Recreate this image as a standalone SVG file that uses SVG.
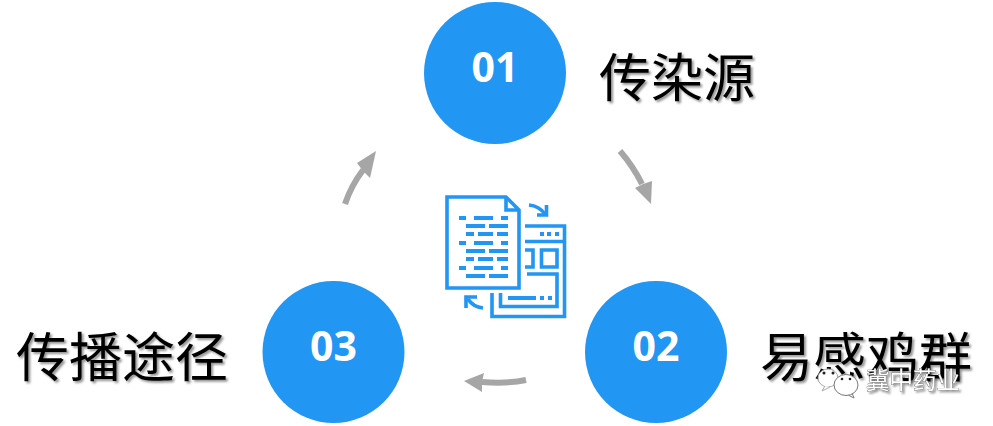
<svg xmlns="http://www.w3.org/2000/svg" width="993" height="426" viewBox="0 0 993 426">
  <style>
    .disc { fill: #2196f3; }
    .num { font-family: "Open Sans", "Noto Sans", sans-serif; font-weight: 700; font-size: 41px; fill: #fff; text-anchor: middle; }
    .label { font-family: "Noto Sans CJK SC", sans-serif; font-size: 53px; fill: #000; filter: url(#soft); }
    .flow { fill: none; stroke: #a6a6a6; stroke-width: 6; }
    .head { fill: #a6a6a6; }
    .ico { fill: none; stroke: #2196f3; stroke-width: 3.6; }
    .dash { fill: #2196f3; }
    .bubble { fill: #fff; stroke: #777; stroke-width: 1; }
    .eye { fill: #222; }
    .mark { font-family: "Noto Sans CJK SC", sans-serif; font-size: 23.5px; fill: #fff; stroke: #555; stroke-width: 0.7; paint-order: stroke; filter: url(#soft); }
  </style>
  <defs>
    <filter id="soft" x="-10%" y="-10%" width="120%" height="130%">
      <feDropShadow dx="2" dy="2" stdDeviation="1.3" flood-color="#000" flood-opacity="0.42"/>
    </filter>
  </defs>
  <rect width="993" height="426" fill="#fff"/>

  <g id="connectors">
    <path class="flow" d="M345 204 Q351 186 363 170"/>
    <path class="head" d="M376 151 L370 178 L363 171 L357 163 Z"/>
    <path class="flow" d="M620 151 Q633 166 642 184"/>
    <path class="head" d="M651 204 L635 188 L643 184 L652 181 Z"/>
    <path class="flow" d="M526 380 Q507 384 482 382"/>
    <path class="head" d="M464 381 L484 373 L482 382 L482 392 Z"/>
  </g>

  <g id="node-01">
    <circle class="disc" cx="495" cy="73" r="71"/>
    <text class="num" x="495" y="82">01</text>
    <text class="label" x="599" y="97" style="font-size:52px">传染源</text>
  </g>
  <g id="node-02">
    <circle class="disc" cx="656" cy="352" r="71"/>
    <text class="num" x="656" y="361">02</text>
    <text class="label" x="760" y="377">易感鸡群</text>
  </g>
  <g id="node-03">
    <circle class="disc" cx="333.500" cy="352" r="71"/>
    <text class="num" x="333.500" y="361">03</text>
    <text class="label" x="16" y="377">传播途径</text>
  </g>

  <g id="center-icon">
    <path class="ico" d="M447 197 H506 L519 210 V288 H447 Z"/>
    <path class="ico" d="M506 197 V210 H519"/>
    <g class="dash">
      <rect x="459" y="216" width="7" height="4"/><rect x="474" y="216" width="19" height="4"/><rect x="501" y="216" width="7" height="4"/>
      <rect x="466" y="224" width="19" height="4"/><rect x="489" y="224" width="19" height="4"/>
      <rect x="466" y="232" width="8" height="4"/><rect x="478" y="232" width="15" height="4"/><rect x="497" y="232" width="11" height="4"/>
      <rect x="459" y="241" width="7" height="4"/><rect x="474" y="241" width="19" height="4"/><rect x="501" y="241" width="7" height="4"/>
      <rect x="466" y="249" width="19" height="4"/><rect x="489" y="249" width="19" height="4"/>
      <rect x="466" y="257" width="8" height="4"/><rect x="478" y="257" width="15" height="4"/><rect x="497" y="257" width="11" height="4"/>
      <rect x="459" y="266" width="7" height="4"/><rect x="474" y="266" width="19" height="4"/><rect x="501" y="266" width="7" height="4"/>
      <rect x="466" y="274" width="19" height="4"/><rect x="489" y="274" width="19" height="4"/>
      <rect x="540" y="232" width="4" height="4"/><rect x="547" y="232" width="4" height="4"/><rect x="555" y="232" width="4" height="4"/>
      <rect x="508" y="296" width="28" height="4"/><rect x="540" y="296" width="4" height="4"/><rect x="548" y="296" width="4" height="4"/>
    </g>
    <path class="ico" d="M525 226 H564.500 V316.500 H492 V293"/>
    <path class="ico" d="M525 241.500 H564.500"/>
    <path class="ico" d="M525 250 H533 V267 H525"/>
    <path class="ico" d="M541.500 250 H557 V267 H541.500 Z"/>
    <path class="ico" d="M527 274 H557 V306.500 H500.500 V293"/>
    <path class="ico" d="M529 205 Q539 206 545 214"/>
    <path class="ico" d="M537 215 H546.500 V205"/>
    <path class="ico" d="M483 308 Q473 307 468 299"/>
    <path class="ico" d="M477 297 H466 V308"/>
  </g>

  <g id="watermark">
    <ellipse class="bubble" cx="828" cy="378" rx="10" ry="9" style="stroke:#aaa"/>
    <path class="bubble" d="M825 386 L822 391 L830 387" style="stroke:#aaa"/>
    <circle class="eye" cx="824" cy="373" r="1.500"/>
    <circle class="eye" cx="833" cy="373" r="1.500"/>
    <path class="bubble" d="M848 395 L854 398 L852 393"/>
    <ellipse class="bubble" cx="846" cy="385" rx="12" ry="10.500"/>
    <circle class="eye" cx="842" cy="379" r="1.300"/>
    <circle class="eye" cx="850" cy="379" r="1.300"/>
    <text class="mark" x="866" y="389">冀中药业</text>
  </g>
</svg>
